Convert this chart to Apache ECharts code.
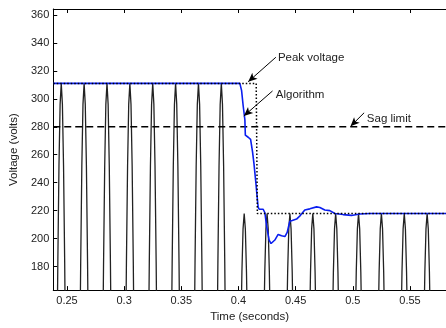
<!DOCTYPE html>
<html>
<head>
<meta charset="utf-8">
<script src="https://cdn.jsdelivr.net/npm/echarts@6/dist/echarts.min.js"></script>
<style>
  html, body { margin: 0; padding: 0; background: #fff; }
  #chart { width: 446px; height: 328px; }
</style>
</head>
<body>
<div id="chart"></div>
<script>
// supply voltage: one peak every 20 ms, sag starts at 0.4 s
var peakTimes = [0.245, 0.265, 0.285, 0.305, 0.325, 0.345, 0.365, 0.385,
  0.405, 0.425, 0.445, 0.465, 0.485, 0.505, 0.525, 0.545, 0.565, 0.585];
var peakVolts = [311, 311, 311, 311, 311, 311, 311, 311,
  218, 218, 218, 218, 218, 218, 218, 218, 218, 218];
// samples around each peak (1 ms apart)
var pulseOffsets = [-0.004, -0.003, -0.002, -0.001, 0, 0.001, 0.002, 0.003, 0.004];
var pulseHigh = [96, 183, 252, 296, 311, 296, 252, 183, 96];
var pulseLow = [67, 128, 176, 207, 218, 207, 176, 128, 67];

// algorithm output
var algoTime = [0.238, 0.4012, 0.4027, 0.4041, 0.4056, 0.4060, 0.4085, 0.4106, 0.4123,
  0.4135, 0.4152, 0.4163, 0.4172, 0.4181, 0.4216, 0.4231, 0.4246, 0.4268, 0.4285,
  0.4318, 0.4347, 0.4377, 0.4406, 0.4426, 0.4449, 0.4470, 0.4508, 0.4540, 0.4580,
  0.4624, 0.4683, 0.4712, 0.4755, 0.4799, 0.4843, 0.4915, 0.4988, 0.5061, 0.5150, 0.5815];
var algoVolt = [311, 311, 306, 295, 285, 274, 272.5, 271, 262,
  254, 240, 230, 222.5, 221, 221, 218.5, 209, 199, 196.5,
  199, 203, 202, 201.5, 204.5, 212.5, 213, 214, 216.5, 220.5,
  221.3, 222.7, 222.3, 220.5, 220, 218, 217.2, 216.6, 217.6, 218, 218];

// true peak voltage
var peakLineTime = [0.238, 0.4155, 0.4165, 0.5815];
var peakLineVolt = [311, 311, 218, 218];

// sag limit
var sagTime = [0.238, 0.5815];
var sagVolt = [280, 280];

var xTicks = [0.25, 0.3, 0.35, 0.4, 0.45, 0.5, 0.55];
var yTicks = [180, 200, 220, 240, 260, 280, 300, 320, 340, 360];

function pairs(xs, ys) {
  return xs.map(function (x, i) { return [x, ys[i]]; });
}

var wave = [];
peakTimes.forEach(function (tp, i) {
  var pulse = peakVolts[i] === 311 ? pulseHigh : pulseLow;
  pulseOffsets.forEach(function (dt, k) {
    wave.push([tp + dt, pulse[k]]);
  });
});

var font = 'Liberation Sans, Arial, sans-serif';
var textColor = '#222';

var chart = echarts.init(document.getElementById('chart'));
chart.setOption({
  animation: false,
  grid: { left: 53, right: 0, top: 9, bottom: 32 },
  xAxis: [{
    type: 'value',
    min: 0.238,
    max: 0.5815,
    name: 'Time (seconds)',
    nameLocation: 'middle',
    nameGap: 20,
    nameTextStyle: { color: textColor, fontFamily: font, fontSize: 11.5 },
    axisLine: { lineStyle: { color: '#000', width: 1 } },
    axisTick: { inside: true, length: 4, customValues: xTicks, lineStyle: { color: '#000' } },
    axisLabel: { customValues: xTicks, color: textColor, fontFamily: font, fontSize: 11, margin: 5 },
    splitLine: { show: false }
  }, {
    type: 'value',
    position: 'top',
    min: 0.238,
    max: 0.5815,
    axisLine: { lineStyle: { color: '#000', width: 1 } },
    axisTick: { inside: true, length: 4, customValues: xTicks, lineStyle: { color: '#000' } },
    axisLabel: { show: false },
    splitLine: { show: false }
  }],
  yAxis: {
    type: 'value',
    min: 163.2,
    max: 364.2,
    name: 'Voltage (volts)',
    nameLocation: 'middle',
    nameGap: 31,
    nameTextStyle: { color: textColor, fontFamily: font, fontSize: 11.5 },
    axisLine: { show: true, lineStyle: { color: '#000', width: 1 } },
    axisTick: { show: true, inside: true, length: 4, customValues: yTicks, lineStyle: { color: '#000' } },
    axisLabel: { customValues: yTicks, color: textColor, fontFamily: font, fontSize: 11, margin: 4 },
    splitLine: { show: false }
  },
  series: [
    {
      name: 'Voltage',
      type: 'line',
      data: wave,
      showSymbol: false,
      lineStyle: { color: '#222', width: 1.3 }
    },
    {
      name: 'Sag limit',
      type: 'line',
      data: pairs(sagTime, sagVolt),
      showSymbol: false,
      lineStyle: { color: '#000', width: 1.5, type: [7, 4] },
      markLine: {
        silent: true,
        symbol: ['none', 'arrow'],
        symbolSize: [6, 9],
        label: { show: false },
        lineStyle: { color: '#000', width: 1, type: 'solid' },
        data: [
          [{ coord: [0.4327, 329.7] }, { coord: [0.4085, 312.2] }],
          [{ coord: [0.4298, 305.6] }, { coord: [0.4047, 287.7] }],
          [{ coord: [0.5099, 290] }, { coord: [0.4980, 280.3] }]
        ]
      },
      markPoint: {
        silent: true,
        symbol: 'circle',
        symbolSize: 0,
        label: {
          show: true,
          position: 'right',
          distance: 1,
          formatter: '{b}',
          color: textColor,
          fontFamily: font,
          fontSize: 11.5
        },
        data: [
          { name: 'Peak voltage', coord: [0.4336, 329.3] },
          { name: 'Algorithm', coord: [0.4318, 302.6] },
          { name: 'Sag limit', coord: [0.5114, 285.8] }
        ]
      }
    },
    {
      name: 'Algorithm',
      type: 'line',
      data: pairs(algoTime, algoVolt),
      showSymbol: false,
      lineStyle: { color: '#0a1ef0', width: 1.6 }
    },
    {
      name: 'Peak voltage',
      type: 'line',
      data: pairs(peakLineTime, peakLineVolt),
      showSymbol: false,
      lineStyle: { color: '#000', width: 1.5, type: [1.5, 2] }
    }
  ]
});
</script>
</body>
</html>
